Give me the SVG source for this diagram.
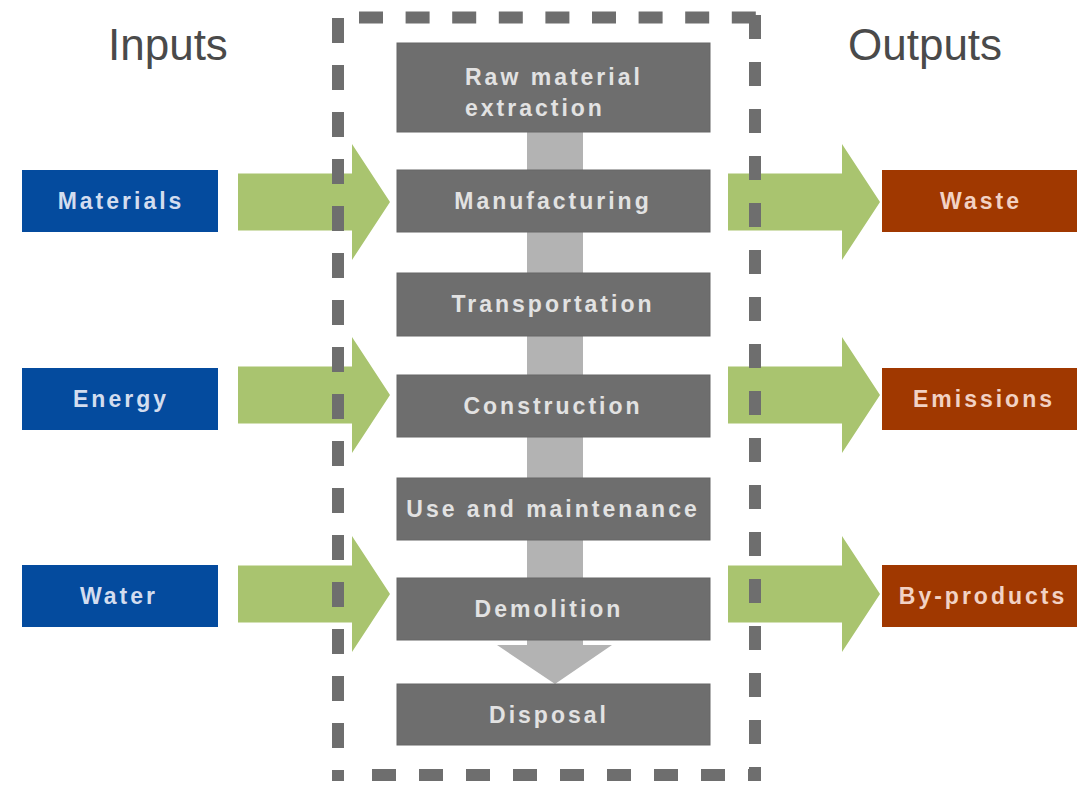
<svg xmlns="http://www.w3.org/2000/svg" width="1079" height="785" viewBox="0 0 1079 785">
<style>
.hdr{font-family:"Liberation Sans",Arial,sans-serif;font-size:44px;fill:#4a4a4a}
.t{font-family:"Liberation Sans",Arial,sans-serif;font-size:23px;font-weight:bold;letter-spacing:3px;text-anchor:middle}
.proc{fill:#6e6e6e;stroke:#666;stroke-width:1}
.proc-t{fill:#e2e2e2}
.inp{fill:#044b9e}
.inp-t{fill:#d3ddef}
.out{fill:#a03800}
.out-t{fill:#f2d2c4}
.garrow{fill:#a9c46f}
.dash{fill:none;stroke:#6e6e6e;stroke-width:12}
</style>
<rect width="1079" height="785" fill="#ffffff"/>
<text class="hdr" x="108" y="60">Inputs</text>
<text class="hdr" x="848" y="60">Outputs</text>

<g id="connectors">
  <polygon fill="#b3b3b3" points="527,130 583,130 583,645 612,645 555,684 497,645 527,645"/>
  <polygon class="garrow" points="238,173.5 352,173.5 352,144 390,202 352,260 352,230.5 238,230.5"/>
  <polygon class="garrow" points="238,366.5 352,366.5 352,337 390,395 352,453 352,423.5 238,423.5"/>
  <polygon class="garrow" points="238,565.5 352,565.5 352,536 390,594 352,652 352,622.5 238,622.5"/>
  <polygon class="garrow" points="728,173.5 842,173.5 842,144 880,202 842,260 842,230.5 728,230.5"/>
  <polygon class="garrow" points="728,366.5 842,366.5 842,337 880,395 842,453 842,423.5 728,423.5"/>
  <polygon class="garrow" points="728,565.5 842,565.5 842,536 880,594 842,652 842,622.5 728,622.5"/>
</g>

<g id="boundary">
  <path class="dash" d="M359 17.5 H761" stroke-dasharray="24 22.6"/>
  <path class="dash" d="M755 15 V781" stroke-dasharray="24 23"/>
  <path class="dash" d="M338 18 V781" stroke-dasharray="25 22"/>
  <path class="dash" d="M372 775 H761" stroke-dasharray="24 23"/>
</g>

<g id="raw">
  <rect class="proc" x="397" y="43" width="313" height="89"/>
  <text class="t proc-t" style="text-anchor:start" x="465" y="85">Raw material</text>
  <text class="t proc-t" style="text-anchor:start" x="465" y="116">extraction</text>
</g>
<g id="manufacturing">
  <rect class="proc" x="397" y="170" width="313" height="62"/>
  <text class="t proc-t" x="553" y="209">Manufacturing</text>
</g>
<g id="transportation">
  <rect class="proc" x="397" y="273" width="313" height="63"/>
  <text class="t proc-t" x="553" y="312">Transportation</text>
</g>
<g id="construction">
  <rect class="proc" x="397" y="375" width="313" height="62"/>
  <text class="t proc-t" x="553" y="414">Construction</text>
</g>
<g id="use">
  <rect class="proc" x="397" y="478" width="313" height="62"/>
  <text class="t proc-t" x="553" y="517">Use and maintenance</text>
</g>
<g id="demolition">
  <rect class="proc" x="397" y="578" width="313" height="62"/>
  <text class="t proc-t" x="549" y="617">Demolition</text>
</g>
<g id="disposal">
  <rect class="proc" x="397" y="684" width="313" height="61"/>
  <text class="t proc-t" x="549" y="723">Disposal</text>
</g>

<g id="materials">
  <rect class="inp" x="22" y="170" width="196" height="62"/>
  <text class="t inp-t" x="121" y="209">Materials</text>
</g>
<g id="energy">
  <rect class="inp" x="22" y="368" width="196" height="62"/>
  <text class="t inp-t" x="121" y="407">Energy</text>
</g>
<g id="water">
  <rect class="inp" x="22" y="565" width="196" height="62"/>
  <text class="t inp-t" x="119" y="604">Water</text>
</g>

<g id="waste">
  <rect class="out" x="882" y="170" width="195" height="62"/>
  <text class="t out-t" x="981" y="209">Waste</text>
</g>
<g id="emissions">
  <rect class="out" x="882" y="368" width="195" height="62"/>
  <text class="t out-t" x="984" y="407">Emissions</text>
</g>
<g id="byproducts">
  <rect class="out" x="882" y="565" width="195" height="62"/>
  <text class="t out-t" x="983" y="604">By-products</text>
</g>
</svg>
